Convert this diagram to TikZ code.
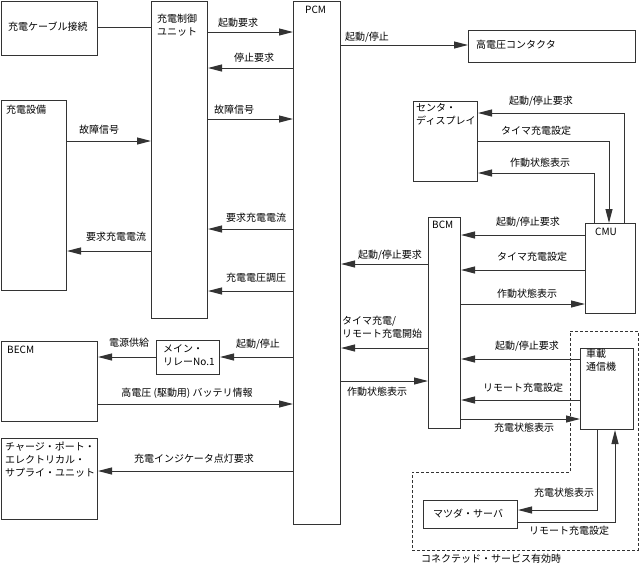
\documentclass[tikz,border=0pt]{standalone}
\usepackage{fontspec}
\setmainfont{Noto Sans CJK JP}
\usetikzlibrary{arrows.meta}
\definecolor{ln}{HTML}{333333}
\tikzset{
  box/.style={draw=ln, line width=1pt, inner sep=0pt, anchor=north west},
  txt/.style={inner sep=0pt, anchor=west, font=\fontsize{10}{13}\selectfont, align=left},
  mtxt/.style={inner sep=0pt, anchor=north west, font=\fontsize{10}{13}\selectfont, align=left},
  lab/.style={inner sep=0pt, font=\fontsize{10}{13}\selectfont},
  con/.style={draw=ln, line width=1pt},
  arr/.style={con, -{Triangle[length=14pt,width=7pt]}},
  zone/.style={draw=ln, line width=0.9pt, dash pattern=on 3pt off 2pt}
}
\begin{document}
\begin{tikzpicture}[x=1pt,y=-1pt]
\useasboundingbox (0,0) rectangle (641,565);
% boxes
\node[box, minimum width=96, minimum height=54] (cable) at (1,1) {};
\node[box, minimum width=56, minimum height=317] (ccu) at (151,1) {};
\node[box, minimum width=47, minimum height=523] (pcm) at (293,1) {};
\node[box, minimum width=167, minimum height=32] (hvc) at (468,30) {};
\node[box, minimum width=64, minimum height=80] (disp) at (413,101) {};
\node[box, minimum width=50, minimum height=90] (cmu) at (585,223) {};
\node[box, minimum width=32, minimum height=211] (bcm) at (428,217) {};
\node[box, minimum width=53, minimum height=81] (tcu) at (580,348) {};
\node[box, minimum width=94, minimum height=28] (srv) at (423,500) {};
\node[box, minimum width=65, minimum height=190] (eq) at (1,100) {};
\node[box, minimum width=96, minimum height=80] (becm) at (1,341) {};
\node[box, minimum width=96, minimum height=81] (cpu) at (1,438) {};
\node[box, minimum width=63, minimum height=34] (relay) at (156,340) {};
% box texts
\node[txt] (tcable) at (8,27) {充電ケーブル接続};
\node[mtxt] (tccu) at (157,14) {充電制御\\ユニット};
\node[txt] (tpcm) at (305,10) {PCM};
\node[txt] (thvc) at (476,45) {高電圧コンタクタ};
\node[mtxt] (tdisp) at (416,103) {センタ・\\ディスプレイ};
\node[txt] (teq) at (6,110) {充電設備};
\node[txt] (tbecm) at (7,350) {BECM};
\node[mtxt] (tcpu) at (5,442) {チャージ・ポート・\\エレクトリカル・\\サプライ・ユニット};
\node[mtxt] (trelay) at (163,344) {メイン・\\リレーNo.1};
\node[txt] (tbcm) at (432,225) {BCM};
\node[txt] (tcmu) at (595,232) {CMU};
\node[mtxt] (ttcu) at (586,349) {車載\\通信機};
\node[txt] (tsrv) at (433,514) {マツダ・サーバ};
% connectors left side
\draw[con] (cable.east |- 0,27) -- (ccu.west |- 0,27);
\draw[arr] (ccu.east |- 0,32) -- (pcm.west |- 0,32);
\draw[arr] (pcm.west |- 0,68) -- (ccu.east |- 0,68);
\draw[arr] (ccu.east |- 0,119) -- (pcm.west |- 0,119);
\draw[arr] (eq.east |- 0,141) -- (ccu.west |- 0,141);
\draw[arr] (pcm.west |- 0,229) -- (ccu.east |- 0,229);
\draw[arr] (ccu.west |- 0,251) -- (eq.east |- 0,251);
\draw[arr] (pcm.west |- 0,291) -- (ccu.east |- 0,291);
\draw[arr] (pcm.west |- 0,357) -- (relay.east |- 0,357);
\draw[arr] (relay.west |- 0,357) -- (becm.east |- 0,357);
\draw[arr] (becm.east |- 0,404) -- (pcm.west |- 0,404);
\draw[arr] (pcm.west |- 0,471) -- (cpu.east |- 0,471);
% connectors right side
\draw[arr] (pcm.east |- 0,45) -- (hvc.west |- 0,45);
\draw[arr] (cmu.north -| 624,0) |- (disp.east |- 0,113);
\draw[arr] (disp.east |- 0,141) -| (cmu.north -| 609,0);
\draw[arr] (cmu.north -| 594,0) |- (disp.east |- 0,173);
\draw[arr] (cmu.west |- 0,235) -- (bcm.east |- 0,235);
\draw[arr] (cmu.west |- 0,270) -- (bcm.east |- 0,270);
\draw[arr] (bcm.east |- 0,304) -- (cmu.west |- 0,304);
\draw[arr] (bcm.west |- 0,264) -- (pcm.east |- 0,264);
\draw[arr] (bcm.west |- 0,348) -- (pcm.east |- 0,348);
\draw[arr] (pcm.east |- 0,381) -- (bcm.west |- 0,381);
\draw[arr] (tcu.west |- 0,359) -- (bcm.east |- 0,359);
\draw[arr] (tcu.west |- 0,400) -- (bcm.east |- 0,400);
\draw[arr] (bcm.east |- 0,419) -- (tcu.west |- 0,419);
\draw[arr] (tcu.south -| 597,0) |- (srv.east |- 0,510);
\draw[arr] (srv.east |- 0,522) -| (tcu.south -| 615,0);
% dashed zone
\draw[zone] (570,331) -- (638,331) -- (638,550) -- (412,550) -- (412,472) -- (570,472) -- cycle;
% labels
\node[lab] (l1) at (238,23) {起動要求};
\node[lab] (l2) at (254,58) {停止要求};
\node[lab] (l3) at (234,110) {故障信号};
\node[lab] (l4) at (99,130) {故障信号};
\node[lab] (l5) at (256,218) {要求充電電流};
\node[lab] (l6) at (116,237) {要求充電電流};
\node[lab] (l7) at (256,278) {充電電圧調圧};
\node[lab] (l8) at (367,37) {起動/停止};
\node[lab] (l9) at (541,101) {起動/停止要求};
\node[lab] (l10) at (536,131) {タイマ充電設定};
\node[lab] (l11) at (540,163) {作動状態表示};
\node[lab] (l12) at (528,222) {起動/停止要求};
\node[lab] (l13) at (532,257) {タイマ充電設定};
\node[lab] (l14) at (527,294) {作動状態表示};
\node[lab] (l15) at (390,255) {起動/停止要求};
\node[mtxt] (l16) at (342,316) {タイマ充電/\\リモート充電開始};
\node[lab] (l17) at (377,392) {作動状態表示};
\node[lab] (l18) at (527,346) {起動/停止要求};
\node[lab] (l19) at (523,388) {リモート充電設定};
\node[lab] (l20) at (524,428) {充電状態表示};
\node[lab] (l21) at (564,493) {充電状態表示};
\node[lab] (l22) at (569,531) {リモート充電設定};
\node[lab] (l23) at (491,559) {コネクテッド・サービス有効時};
\node[lab] (l24) at (258,344) {起動/停止};
\node[lab] (l25) at (129,343) {電源供給};
\node[lab] (l26) at (187,393) {高電圧 (駆動用) バッテリ情報};
\node[lab] (l27) at (194,459) {充電インジケータ点灯要求};
\end{tikzpicture}
\end{document}
